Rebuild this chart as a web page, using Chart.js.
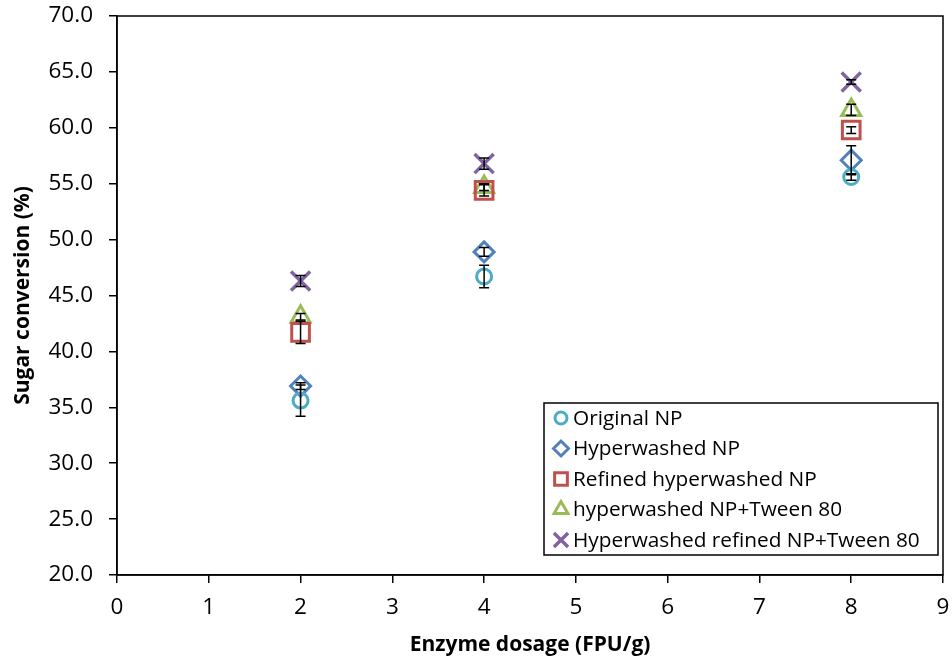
<!DOCTYPE html>
<html>
<head>
<meta charset="utf-8">
<script src="https://cdn.jsdelivr.net/npm/chart.js@4/dist/chart.umd.min.js"></script>
<style>
  html, body { margin: 0; padding: 0; background: #fff; }
  #wrap { width: 952px; height: 661px; position: relative; }
</style>
</head>
<body>
<div id="wrap"><canvas id="c" width="952" height="661"></canvas></div>
<script>
// ---- data ----
const dosages = [2, 4, 8];
const seriesLabels = [
  'Original NP',
  'Hyperwashed NP',
  'Refined hyperwashed NP',
  'hyperwashed NP+Tween 80',
  'Hyperwashed refined NP+Tween 80'
];
const originalNP = [35.6, 46.7, 55.6];
const originalNPErr = [1.4, 1.0, 0.3];
const hyperwashedNP = [36.9, 48.9, 57.1];
const hyperwashedNPErr = [0.3, 0.4, 1.3];
const refinedHyperwashedNP = [41.7, 54.4, 59.8];
const refinedHyperwashedNPErr = [1.0, 0.5, 0.3];
const hyperwashedTween = [43.1, 54.7, 61.6];
const hyperwashedTweenErr = [0.3, 0.3, 0.5];
const refinedTween = [46.3, 56.8, 64.1];
const refinedTweenErr = [0.5, 0.5, 0.2];
const yTicks = [20, 25, 30, 35, 40, 45, 50, 55, 60, 65, 70];
const xTicks = [0, 1, 2, 3, 4, 5, 6, 7, 8, 9];

const FONT = '"Open Sans", Carlito, Lato, sans-serif';

const styles = [
  { color: '#4BACC6', pointStyle: 'circle', radius: 7.5, legendRadius: 6, width: 3 },
  { color: '#4F81BD', pointStyle: 'rectRot', radius: 10, legendRadius: 7.5, width: 3 },
  { color: '#C0504D', pointStyle: 'rect', radius: 12.5, legendRadius: 9, width: 3 },
  { color: '#9BBB59', pointStyle: 'triangle', radius: 11, legendRadius: 8, width: 3 },
  { color: '#8064A2', pointStyle: 'crossRot', radius: 13.5, legendRadius: 10, width: 3.5 }
];
const values = [originalNP, hyperwashedNP, refinedHyperwashedNP, hyperwashedTween, refinedTween];
const errors = [originalNPErr, hyperwashedNPErr, refinedHyperwashedNPErr, hyperwashedTweenErr, refinedTweenErr];

const datasets = values.map((vals, i) => ({
  label: seriesLabels[i],
  data: vals.map((v, j) => ({ x: dosages[j], y: v })),
  errors: errors[i],
  pointStyle: styles[i].pointStyle,
  pointRadius: styles[i].radius,
  pointHoverRadius: styles[i].radius,
  borderColor: styles[i].color,
  backgroundColor: 'rgba(255,255,255,0)',
  pointBackgroundColor: 'rgba(255,255,255,0)',
  borderWidth: styles[i].width,
  pointBorderWidth: styles[i].width,
  showLine: false
}));

const framePlugin = {
  id: 'frame',
  afterDraw(chart) {
    const { ctx, chartArea: a } = chart;
    ctx.save();
    ctx.strokeStyle = '#000';
    ctx.lineWidth = 1.5;
    ctx.strokeRect(a.left, a.top, a.right - a.left, a.bottom - a.top);
    ctx.restore();
  }
};

const errorBarPlugin = {
  id: 'errorBars',
  afterDatasetsDraw(chart) {
    const { ctx, scales: { x, y } } = chart;
    ctx.save();
    ctx.strokeStyle = '#000';
    ctx.lineWidth = 1.5;
    chart.data.datasets.forEach(ds => {
      ds.data.forEach((p, j) => {
        const e = ds.errors[j];
        const px = x.getPixelForValue(p.x);
        const yTop = y.getPixelForValue(p.y + e);
        const yBot = y.getPixelForValue(p.y - e);
        ctx.beginPath();
        ctx.moveTo(px, yTop); ctx.lineTo(px, yBot);
        ctx.moveTo(px - 5, yTop); ctx.lineTo(px + 5, yTop);
        ctx.moveTo(px - 5, yBot); ctx.lineTo(px + 5, yBot);
        ctx.stroke();
      });
    });
    ctx.restore();
  }
};

const legendPlugin = {
  id: 'boxLegend',
  afterDraw(chart) {
    const { ctx } = chart;
    const left = 544, top = 403, width = 394, height = 152;
    ctx.save();
    ctx.fillStyle = '#fff';
    ctx.fillRect(left, top, width, height);
    ctx.strokeStyle = '#000';
    ctx.lineWidth = 1.5;
    ctx.strokeRect(left, top, width, height);
    ctx.font = '20.8px ' + FONT;
    ctx.textBaseline = 'middle';
    ctx.textAlign = 'left';
    chart.data.datasets.forEach((ds, i) => {
      const cy = top + 15 + i * 30.5;
      ctx.strokeStyle = styles[i].color;
      ctx.fillStyle = 'rgba(255,255,255,0)';
      ctx.lineWidth = styles[i].width;
      Chart.helpers.drawPoint(ctx, { pointStyle: styles[i].pointStyle, radius: styles[i].legendRadius, borderWidth: styles[i].width }, left + 17, cy);
      ctx.fillStyle = '#000';
      ctx.fillText(ds.label, left + 29, cy + 1);
    });
    ctx.restore();
  }
};

new Chart(document.getElementById('c'), {
  type: 'scatter',
  data: { datasets },
  plugins: [framePlugin, errorBarPlugin, legendPlugin],
  options: {
    responsive: false,
    animation: false,
    layout: { autoPadding: false, padding: { top: 16, right: 9, bottom: 0, left: 0 } },
    plugins: { legend: { display: false }, tooltip: { enabled: false } },
    scales: {
      x: {
        type: 'linear',
        min: 0, max: 9,
        afterBuildTicks(s) { s.ticks = xTicks.map(v => ({ value: v })); },
        afterFit(s) { s.height = 86; s.paddingLeft = 0; s.paddingRight = 0; },
        grid: { drawOnChartArea: false, drawTicks: true, tickLength: 8, color: '#000', lineWidth: 1.5 },
        border: { display: true, color: '#000', width: 1.5 },
        ticks: { color: '#000', font: { family: FONT, size: 22.5 }, padding: 11, callback: v => String(v) },
        title: { display: true, text: 'Enzyme dosage (FPU/g)', color: '#000', font: { family: FONT, size: 21, weight: 'bold' }, padding: { top: 0, bottom: 3 } }
      },
      y: {
        type: 'linear',
        min: 20, max: 70,
        afterBuildTicks(s) { s.ticks = yTicks.map(v => ({ value: v })); },
        afterFit(s) { s.width = 117; s.paddingTop = 0; s.paddingBottom = 0; },
        grid: { drawOnChartArea: false, drawTicks: true, tickLength: 8, color: '#000', lineWidth: 1.5 },
        border: { display: true, color: '#000', width: 1.5 },
        ticks: { color: '#000', font: { family: FONT, size: 22.5 }, padding: 16, callback: v => Number(v).toFixed(1) },
        title: { display: true, text: 'Sugar conversion (%)', color: '#000', font: { family: FONT, size: 21, weight: 'bold' }, padding: { top: 10, bottom: 0 } }
      }
    }
  }
});
</script>
</body>
</html>
